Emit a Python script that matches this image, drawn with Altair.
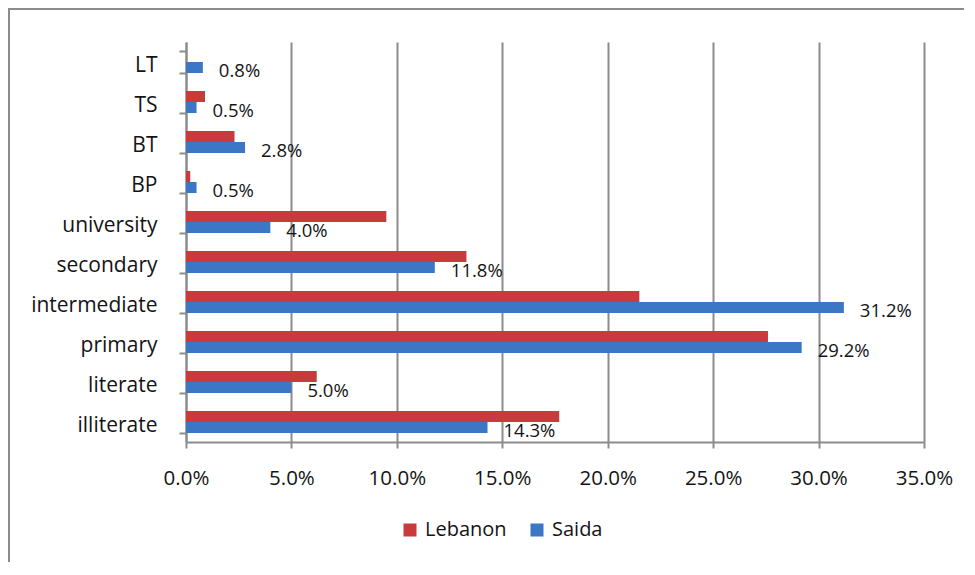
import altair as alt
import pandas as pd

categories = ["illiterate", "literate", "primary", "intermediate", "secondary",
              "university", "BP", "BT", "TS", "LT"]
lebanon = [17.7, 6.2, 27.6, 21.5, 13.3, 9.5, 0.2, 2.3, 0.9, 0.0]
saida = [14.3, 5.0, 29.2, 31.2, 11.8, 4.0, 0.5, 2.8, 0.5, 0.8]
series_names = ["Lebanon", "Saida"]
series_colors = ["#C93A3C", "#3B77C5"]
x_ticks = [0, 5, 10, 15, 20, 25, 30, 35]

rows = []
for c, l, s in zip(categories, lebanon, saida):
    rows.append({"category": c, "series": "Lebanon", "value": l})
    rows.append({"category": c, "series": "Saida", "value": s})
df = pd.DataFrame(rows)

order = categories[::-1]
W, H = 738, 400
GRAY = "#8c8c8c"
FONT = "Open Sans"
TXT = "#141414"

x_axis = alt.Axis(values=x_ticks, labelExpr="format(datum.value, '.1f') + '%'",
                  title=None, grid=True, gridColor=GRAY, gridWidth=2,
                  domainColor=GRAY, domainWidth=2, tickColor=GRAY, tickWidth=2,
                  tickSize=6, labelFont=FONT, labelFontSize=20.5, labelColor=TXT,
                  labelPadding=20, labelFlush=False)
y_axis = alt.Axis(title=None, grid=False, tickBand="extent", domainColor=GRAY,
                  domainWidth=2, tickColor=GRAY, tickWidth=2, tickSize=7,
                  labelFont=FONT, labelFontSize=21, labelColor=TXT,
                  labelPadding=22, labelOffset=3)

x_enc = alt.X("value:Q", scale=alt.Scale(domain=[0, 35], nice=False), axis=x_axis)
y_enc = alt.Y("category:N", sort=order,
              scale=alt.Scale(paddingInner=0.45, paddingOuter=0.225), axis=y_axis)
yoff_enc = alt.YOffset("series:N", sort=series_names,
                       scale=alt.Scale(domain=series_names, paddingInner=0, paddingOuter=0))

bars = alt.Chart(df).mark_bar().encode(
    x=x_enc,
    y=y_enc,
    yOffset=yoff_enc,
    color=alt.Color("series:N",
                    scale=alt.Scale(domain=series_names, range=series_colors),
                    legend=alt.Legend(title=None, orient="none", legendX=214, legendY=478,
                                      direction="horizontal", symbolType="square",
                                      symbolSize=169, symbolStrokeWidth=0,
                                      labelFont=FONT, labelFontSize=20, labelColor=TXT,
                                      columnPadding=20, labelOffset=5)),
)

text = alt.Chart(df).transform_filter(
    alt.datum.series == "Saida"
).transform_calculate(
    label="format(datum.value, '.1f') + '%'"
).mark_text(align="left", baseline="middle", dx=16, dy=3, font=FONT,
            fontSize=18.5, color=TXT).encode(
    x=x_enc,
    y=y_enc,
    yOffset=yoff_enc,
    text="label:N",
)

frame = alt.Chart(pd.DataFrame({"f": [0]})).mark_rect(
    fillOpacity=0, stroke=GRAY, strokeWidth=2
).encode(
    x=alt.value(-177), x2=alt.value(W + 120),
    y=alt.value(-33), y2=alt.value(H + 300),
)

chart = alt.layer(frame, bars, text).properties(
    width=W, height=H,
    autosize=alt.AutoSizeParams(type="none"),
    padding={"left": 178, "top": 34, "right": 40, "bottom": 120},
).configure_view(strokeWidth=0)

chart.save("out.html", embed_options={"renderer": "svg", "actions": False})
